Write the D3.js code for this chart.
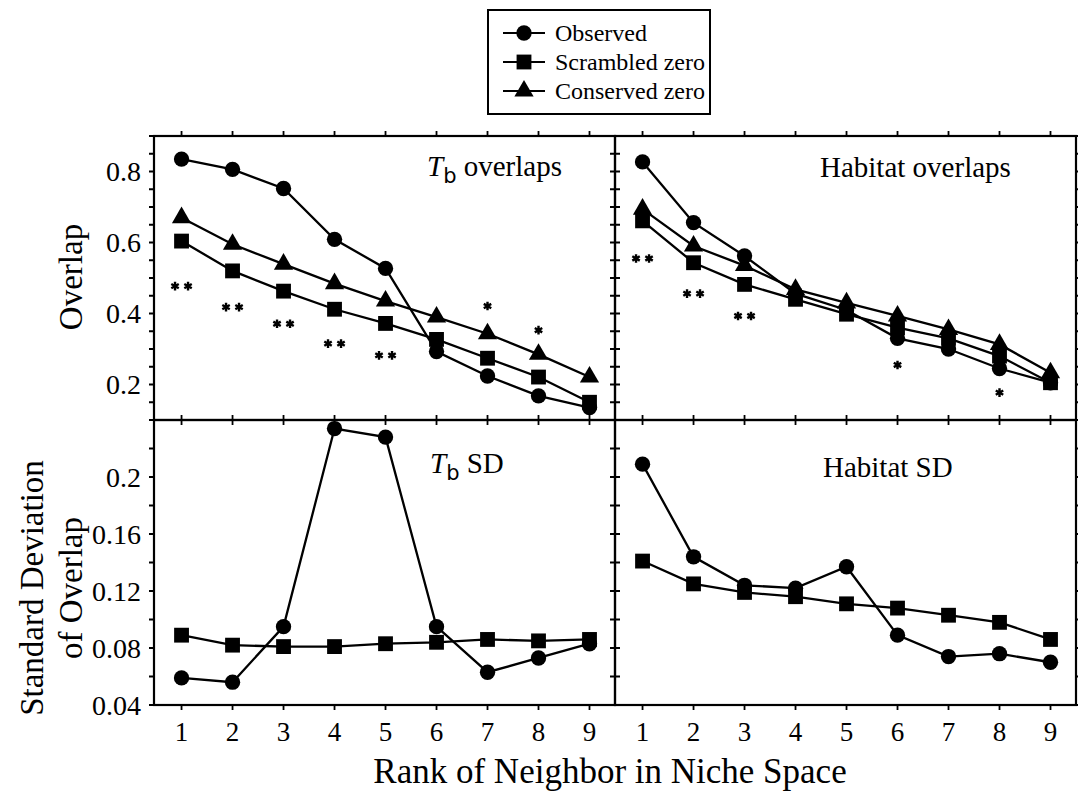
<!DOCTYPE html>
<html lang="en">
<head>
<meta charset="utf-8">
<title>Overlap by rank of neighbor</title>
<script src="https://d3js.org/d3.v7.min.js"></script>
<style>
  body { margin: 0; background: #fff; }
  svg { display: block; font-family: "Liberation Serif", "DejaVu Serif", serif; }
</style>
</head>
<body>
<script>
// ranks of neighbor in niche space
var ranks = [1, 2, 3, 4, 5, 6, 7, 8, 9];
var seriesNames = ["Observed", "Scrambled zero", "Conserved zero"];

// Tb overlaps
var tbObserved  = [0.835, 0.806, 0.752, 0.609, 0.527, 0.293, 0.224, 0.168, 0.135];
var tbScrambled = [0.604, 0.520, 0.463, 0.412, 0.372, 0.327, 0.274, 0.221, 0.150];
var tbConserved = [0.670, 0.595, 0.539, 0.484, 0.435, 0.390, 0.343, 0.285, 0.221];

// Habitat overlaps
var habObserved  = [0.827, 0.656, 0.562, 0.456, 0.410, 0.330, 0.300, 0.245, 0.205];
var habScrambled = [0.661, 0.543, 0.482, 0.440, 0.398, 0.360, 0.330, 0.280, 0.205];
var habConserved = [0.694, 0.590, 0.535, 0.468, 0.430, 0.393, 0.355, 0.313, 0.233];

// standard deviations
var tbSdObserved   = [0.059, 0.056, 0.095, 0.234, 0.228, 0.095, 0.063, 0.073, 0.083];
var tbSdScrambled  = [0.089, 0.082, 0.081, 0.081, 0.083, 0.084, 0.086, 0.085, 0.086];
var habSdObserved  = [0.209, 0.144, 0.124, 0.122, 0.137, 0.089, 0.074, 0.076, 0.070];
var habSdScrambled = [0.141, 0.125, 0.119, 0.116, 0.111, 0.108, 0.103, 0.098, 0.086];

// significance stars (rank, height, number of stars)
var tbStarRanks  = [1, 2, 3, 4, 5, 7, 8];
var tbStarValues = [0.477, 0.418, 0.371, 0.315, 0.282, 0.421, 0.353];
var tbStarCounts = [2, 2, 2, 2, 2, 1, 1];
var habStarRanks  = [1, 2, 3, 6, 8];
var habStarValues = [0.555, 0.456, 0.393, 0.255, 0.177];
var habStarCounts = [2, 2, 2, 1, 1];

// axis ticks
var overlapTicks = [0.2, 0.4, 0.6, 0.8];
var sdTicks = [0.04, 0.08, 0.12, 0.16, 0.2];

var width = 1078, height = 791;
var plotLeft = 154, plotMid = 615, plotRight = 1076;
var plotTop = 136, plotMidY = 420, plotBottom = 705;

var svg = d3.select("body").append("svg")
    .attr("width", width)
    .attr("height", height);

var xLeft = d3.scaleLinear().domain([0.46, 9.5]).range([plotLeft, plotMid]);
var xRight = d3.scaleLinear().domain([0.46, 9.5]).range([plotMid, plotRight]);
var yTop = d3.scaleLinear().domain([0.1, 0.9]).range([plotMidY, plotTop]);
var yBottom = d3.scaleLinear().domain([0.04, 0.24]).range([plotBottom, plotMidY]);

var symbols = [d3.symbolCircle, d3.symbolSquare, d3.symbolTriangle];
var symbolSizes = [185, 220, 160];

var panels = [
  { x: xLeft,  y: yTop,    series: [tbObserved, tbScrambled, tbConserved], minor: 0.05,
    label: "overlaps", tb: true, lx: 427, ly: 176,
    stars: [tbStarRanks, tbStarValues, tbStarCounts] },
  { x: xRight, y: yTop,    series: [habObserved, habScrambled, habConserved], minor: 0.05,
    label: "Habitat overlaps", tb: false, lx: 820, ly: 177,
    stars: [habStarRanks, habStarValues, habStarCounts] },
  { x: xLeft,  y: yBottom, series: [tbSdObserved, tbSdScrambled], minor: 0.02,
    label: "SD", tb: true, lx: 430, ly: 473, stars: null },
  { x: xRight, y: yBottom, series: [habSdObserved, habSdScrambled], minor: 0.02,
    label: "Habitat SD", tb: false, lx: 823, ly: 477, stars: null }
];

panels.forEach(function(p) {
  var g = svg.append("g");
  var x0 = p.x.range()[0], x1 = p.x.range()[1];
  var y0 = p.y.range()[1], y1 = p.y.range()[0];

  // frame
  g.append("rect")
      .attr("x", x0).attr("y", y0)
      .attr("width", x1 - x0).attr("height", y1 - y0)
      .attr("fill", "none").attr("stroke", "#000").attr("stroke-width", 2.2);

  // x ticks, outward on top and bottom
  g.selectAll(".xt").data(ranks).enter().append("path")
      .attr("d", function(d) {
        var xx = p.x(d);
        return "M" + xx + "," + (y0 - 5) + "V" + y0 + "M" + xx + "," + y1 + "V" + (y1 + 5);
      })
      .attr("stroke", "#000").attr("stroke-width", 1.8);

  // y ticks, outward on left and right
  var dom = p.y.domain();
  var yt = d3.range(dom[0], dom[1] + 1e-9, p.minor);
  g.selectAll(".yt").data(yt).enter().append("path")
      .attr("d", function(d) {
        var yy = p.y(d);
        return "M" + (x0 - 5) + "," + yy + "H" + x0 + "M" + x1 + "," + yy + "H" + (x1 + 5);
      })
      .attr("stroke", "#000").attr("stroke-width", 1.8);

  // series: line then markers
  p.series.forEach(function(vals, si) {
    var pts = ranks.map(function(r, i) { return [p.x(r), p.y(vals[i])]; });
    g.append("path")
        .attr("d", d3.line()(pts))
        .attr("fill", "none").attr("stroke", "#000").attr("stroke-width", 2.3);
    g.selectAll(".m" + si).data(pts).enter().append("path")
        .attr("transform", function(d) { return "translate(" + d[0] + "," + d[1] + ")"; })
        .attr("d", d3.symbol().type(symbols[si]).size(symbolSizes[si]))
        .attr("fill", "#000");
  });

  // significance stars
  if (p.stars) {
    var sr = p.stars[0], sv = p.stars[1], sc = p.stars[2];
    sr.forEach(function(r, i) {
      for (var k = 0; k < sc[i]; k++) {
        var off = sc[i] === 2 ? (k === 0 ? -6.5 : 6.5) : 0;
        g.append("path")
            .attr("transform", "translate(" + (p.x(r) + off) + "," + p.y(sv[i]) + ")")
            .attr("d", d3.symbol().type(d3.symbolAsterisk).size(52))
            .attr("fill", "none").attr("stroke", "#000").attr("stroke-width", 2.4);
      }
    });
  }

  // panel label
  var t = g.append("text")
      .attr("x", p.lx).attr("y", p.ly)
      .attr("font-size", 29);
  if (p.tb) {
    t.append("tspan").attr("font-style", "italic").text("T");
    t.append("tspan").attr("font-family", "'DejaVu Sans', sans-serif")
        .attr("font-size", 21).attr("dy", 7).text("b");
    t.append("tspan").attr("dy", -7).text(" " + p.label);
  } else {
    t.text(p.label);
  }
});

// y tick labels
svg.selectAll(".ylabTop").data(overlapTicks).enter().append("text")
    .attr("x", 141).attr("y", function(d) { return yTop(d); })
    .attr("dy", "0.35em").attr("text-anchor", "end").attr("font-size", 28)
    .text(function(d) { return d3.format(".1f")(d); });
svg.selectAll(".ylabBottom").data(sdTicks).enter().append("text")
    .attr("x", 141).attr("y", function(d) { return yBottom(d); })
    .attr("dy", "0.35em").attr("text-anchor", "end").attr("font-size", 28)
    .text(function(d) { return String(+d.toFixed(2)); });

// x tick labels for both lower panels
[xLeft, xRight].forEach(function(xs) {
  svg.append("g").selectAll("text").data(ranks).enter().append("text")
      .attr("x", function(d) { return xs(d); }).attr("y", 741)
      .attr("text-anchor", "middle").attr("font-size", 27)
      .text(function(d) { return d; });
});

// axis titles
svg.append("text")
    .attr("transform", "translate(82,277) rotate(-90)")
    .attr("text-anchor", "middle").attr("font-size", 33)
    .text("Overlap");
svg.append("text")
    .attr("transform", "translate(43,588) rotate(-90)")
    .attr("text-anchor", "middle").attr("font-size", 33)
    .text("Standard Deviation");
svg.append("text")
    .attr("transform", "translate(82,588) rotate(-90)")
    .attr("text-anchor", "middle").attr("font-size", 33)
    .text("of Overlap");
svg.append("text")
    .attr("x", 610).attr("y", 783)
    .attr("text-anchor", "middle").attr("font-size", 35)
    .text("Rank of Neighbor in Niche Space");

// legend
var legend = svg.append("g");
legend.append("rect")
    .attr("x", 488).attr("y", 10).attr("width", 222).attr("height", 104)
    .attr("fill", "#fff").attr("stroke", "#000").attr("stroke-width", 2);
var legendY = d3.scalePoint().domain(seriesNames).range([33, 91]);
seriesNames.forEach(function(name, i) {
  var yy = legendY(name);
  legend.append("line")
      .attr("x1", 503).attr("x2", 545).attr("y1", yy).attr("y2", yy)
      .attr("stroke", "#000").attr("stroke-width", 2.2);
  legend.append("path")
      .attr("transform", "translate(524," + yy + ")")
      .attr("d", d3.symbol().type(symbols[i]).size(symbolSizes[i]))
      .attr("fill", "#000");
  legend.append("text")
      .attr("x", 555).attr("y", yy).attr("dy", "0.35em")
      .attr("font-size", 24)
      .text(name);
});
</script>
</body>
</html>
